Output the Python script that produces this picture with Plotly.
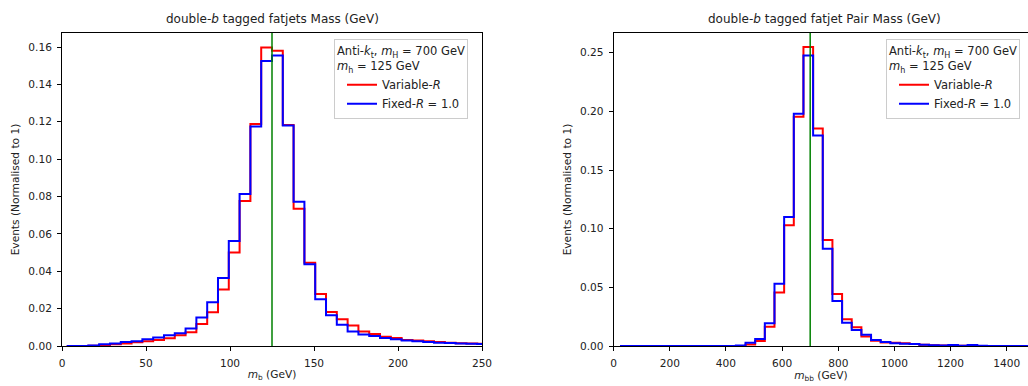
import numpy as np
import plotly.graph_objects as go

# ---------------- data ----------------
# left panel: m_b, 40 bins of width 6.43 GeV, one edge at 125 GeV
mb_bin_first_edge = 125 - 19 * 6.43
mb_bin_width = 6.43
mb_variable_r = [0.0, 0.0, 0.0002, 0.0005, 0.0009, 0.0014, 0.0020, 0.0025, 0.0032, 0.0041,
                 0.0057, 0.0073, 0.0118, 0.0180, 0.0303, 0.0500, 0.0776, 0.1188, 0.1598, 0.1580,
                 0.1183, 0.0735, 0.0446, 0.0278, 0.0182, 0.0143, 0.0110, 0.0078, 0.0064, 0.0050,
                 0.0043, 0.0032, 0.0029, 0.0025, 0.0021, 0.0018, 0.0015, 0.0013, 0.0012, 0.0011]
mb_fixed_r = [0.0, 0.0, 0.0003, 0.0009, 0.0014, 0.0021, 0.0025, 0.0036, 0.0046, 0.0057,
              0.0068, 0.0093, 0.0152, 0.0234, 0.0364, 0.0562, 0.0813, 0.1174, 0.1525, 0.1554,
              0.1180, 0.0772, 0.0437, 0.0250, 0.0164, 0.0114, 0.0078, 0.0061, 0.0054, 0.0043,
              0.0036, 0.0029, 0.0025, 0.0021, 0.0018, 0.0016, 0.0013, 0.0012, 0.0011, 0.0010]

# right panel: m_bb, bins of width 34.4 GeV, one edge at 676 GeV
mbb_bin_first_edge = 676 - 19 * 34.4
mbb_bin_width = 34.4
mbb_variable_r = [0.0] * 13 + [0.0012, 0.0043, 0.0165, 0.0455, 0.1030, 0.1955, 0.2548, 0.1854,
                               0.0904, 0.0444, 0.0228, 0.0160, 0.0080, 0.0045, 0.0030, 0.0028,
                               0.0023, 0.0017, 0.0010, 0.0006, 0.0004, 0.0003, 0.0002, 0.0002,
                               0.0001, 0.0001, 0.0001, 0.0001, 0.0001, 0.0001]
mbb_fixed_r = [0.0] * 12 + [0.0005, 0.0028, 0.0060, 0.0193, 0.0530, 0.1100, 0.1980, 0.2477, 0.1795,
                            0.0830, 0.0384, 0.0199, 0.0137, 0.0095, 0.0051, 0.0034, 0.0023,
                            0.0020, 0.0017, 0.0010, 0.0006, 0.0004, 0.0008, 0.0003, 0.0008,
                            0.0002, 0.0001, 0.0001, 0.0001, 0.0001, 0.0001]

higgs_small_mass = 125
higgs_heavy_mass = 700

left_x_ticks = [0, 50, 100, 150, 200, 250]
left_y_ticks = [0.00, 0.02, 0.04, 0.06, 0.08, 0.10, 0.12, 0.14, 0.16]
right_x_ticks = [0, 200, 400, 600, 800, 1000, 1200, 1400]
right_y_ticks = [0.00, 0.05, 0.10, 0.15, 0.20, 0.25]

series_names = ["Variable-<i>R</i>", "Fixed-<i>R</i> = 1.0"]
series_colors = ["#ff0000", "#0000ff"]
legend_title = "Anti-<i>k</i><sub>t</sub>, <i>m</i><sub>H</sub> = 700 GeV<br><i>m</i><sub>h</sub> = 125 GeV"


def step_xy(first_edge, width, values):
    edges = first_edge + width * np.arange(len(values) + 1)
    xs = [edges[0]] + list(edges)
    ys = [0.0] + list(values) + [values[-1]]
    xs = xs + [edges[-1]]
    ys = ys + [0.0]
    return xs, ys


FONT = "DejaVu Sans"
TXT = "#222222"
FS_TICK = 10.6
FS_LABEL = 10.6
FS_LEG = 11.5
FS_TITLE = 12

fig = go.Figure()
for vals, name, col in zip([mb_variable_r, mb_fixed_r], series_names, series_colors):
    xs, ys = step_xy(mb_bin_first_edge, mb_bin_width, vals)
    fig.add_trace(go.Scatter(x=xs, y=ys, mode="lines", line=dict(shape="hv", color=col, width=2),
                             name=name, xaxis="x", yaxis="y", legend="legend"))
for vals, name, col in zip([mbb_variable_r, mbb_fixed_r], series_names, series_colors):
    xs, ys = step_xy(mbb_bin_first_edge, mbb_bin_width, vals)
    fig.add_trace(go.Scatter(x=xs, y=ys, mode="lines", line=dict(shape="hv", color=col, width=2),
                             name=name, xaxis="x2", yaxis="y2", legend="legend2"))

fig.add_shape(type="line", xref="x", yref="y domain", x0=higgs_small_mass, x1=higgs_small_mass,
              y0=0, y1=1, line=dict(color="#008000", width=1.5))
fig.add_shape(type="line", xref="x2", yref="y2 domain", x0=higgs_heavy_mass, x1=higgs_heavy_mass,
              y0=0, y1=1, line=dict(color="#008000", width=1.5))

W, H = 1028, 386
ML, MR, MT, MB = 62, 0, 33, 40
PW = W - ML - MR
left_dom = [0, 420 / PW]
right_dom = [(613.7 - ML) / PW, 1]

axis_common = dict(showline=True, linecolor="black", linewidth=1, ticks="outside", ticklen=4,
                   tickcolor="black", tickwidth=1, showgrid=False, zeroline=False,
                   tickfont=dict(family=FONT, size=FS_TICK, color=TXT), ticklabelstandoff=3)

legend_common = dict(xanchor="left", yanchor="top", y=(346 - 39.3) / 313,
                     bgcolor="rgba(255,255,255,0.8)", bordercolor="#cccccc", borderwidth=1,
                     indentation=7,
                     font=dict(family=FONT, size=FS_LEG, color=TXT),
                     title=dict(text=legend_title, font=dict(family=FONT, size=FS_LEG, color=TXT)))

fig.update_layout(
    width=W, height=H, margin=dict(l=ML, r=MR, t=MT, b=MB, autoexpand=False),
    paper_bgcolor="white", plot_bgcolor="white",
    font=dict(family=FONT, size=FS_LABEL, color=TXT),
    xaxis=dict(domain=left_dom, range=[0, 250], tickvals=left_x_ticks, mirror=True, anchor="y",
               title=dict(text="<i>m</i><sub>b</sub> (GeV)", font=dict(family=FONT, size=FS_LABEL, color=TXT), standoff=2),
               **axis_common),
    yaxis=dict(domain=[0, 1], range=[0, 0.1675], tickvals=left_y_ticks, tickformat=".2f", mirror=True,
               anchor="x",
               title=dict(text="Events (Normalised to 1)", font=dict(family=FONT, size=FS_LABEL, color=TXT), standoff=6),
               **axis_common),
    xaxis2=dict(domain=right_dom, range=[0, (1028 - 613.7) / 0.2807], tickvals=right_x_ticks, mirror=True,
                anchor="y2",
                title=dict(text="<i>m</i><sub>bb</sub> (GeV)", font=dict(family=FONT, size=FS_LABEL, color=TXT), standoff=2),
                **axis_common),
    yaxis2=dict(domain=[0, 1], range=[0, 0.2668], tickvals=right_y_ticks, tickformat=".2f", mirror=False,
                anchor="x2",
                title=dict(text="Events (Normalised to 1)", font=dict(family=FONT, size=FS_LABEL, color=TXT), standoff=6),
                **axis_common),
    legend=dict(x=(334 - ML) / PW, **legend_common),
    legend2=dict(x=(886 - ML) / PW, **legend_common),
    annotations=[
        dict(text="double-<i>b</i> tagged fatjets Mass (GeV)", xref="x", yref="paper", x=125, y=1,
             yshift=5, xanchor="center", yanchor="bottom", showarrow=False,
             font=dict(family=FONT, size=FS_TITLE, color=TXT)),
        dict(text="double-<i>b</i> tagged fatjet Pair Mass (GeV)", xref="x2", yref="paper", x=751, y=1,
             yshift=5, xanchor="center", yanchor="bottom", showarrow=False,
             font=dict(family=FONT, size=FS_TITLE, color=TXT)),
    ],
)

fig.write_html("out.html")
